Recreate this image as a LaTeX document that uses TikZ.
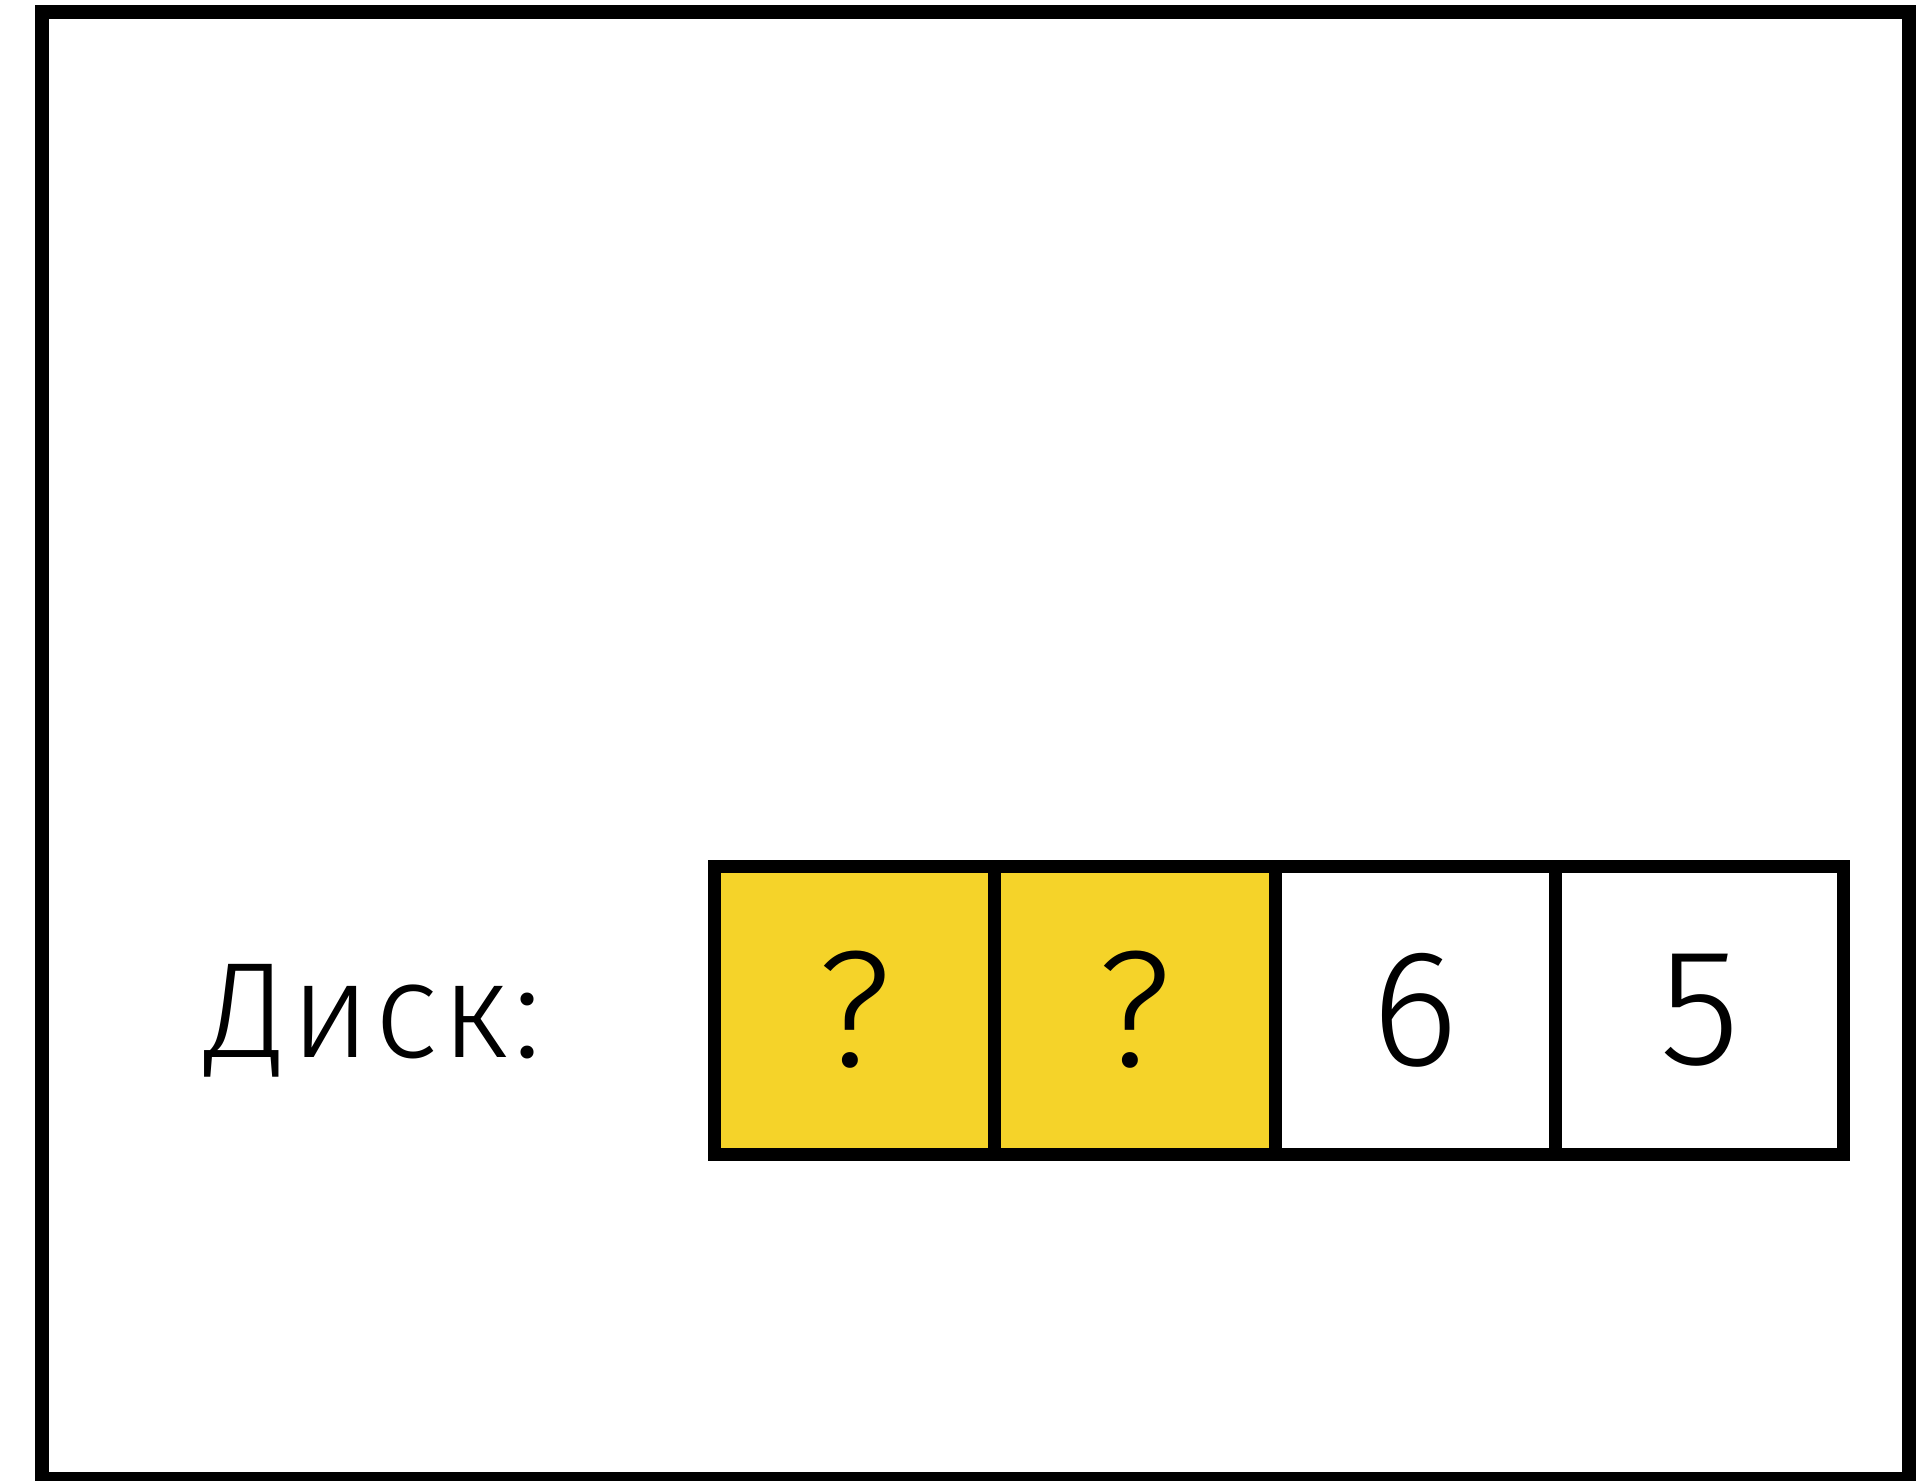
\documentclass[tikz,border=0pt]{standalone}
\usepackage{fontspec}
\setmainfont{Fira Sans}[UprightFont=* Light]
\usepackage{xcolor}
\definecolor{dyellow}{RGB}{245,211,41}

\begin{document}
\begin{tikzpicture}[x=0.5pt,y=-0.5pt,
  cell/.style={draw,line width=6.5pt,minimum height=144pt,inner sep=0pt,
    font=\fontsize{83}{90}\selectfont}]
\useasboundingbox (0,0) rectangle (1916,1481);
\draw[line width=7pt] (42,12) rectangle (1909,1479);
\node[anchor=base west,inner sep=0pt,font=\fontsize{68}{76}\selectfont\addfontfeatures{LetterSpace=2.5}] (disklabel) at (205,1057) {Диск:};
\node[cell,fill=dyellow,minimum width=140.25pt] (cellA) at (854.25,1010) {?};
\node[cell,fill=dyellow,minimum width=140.25pt] (cellB) at (1134.75,1010) {?};
\node[cell,fill=white,minimum width=140.25pt] (cellC) at (1415.25,1010) {6};
\node[cell,fill=white,minimum width=144pt] (cellD) at (1699.5,1010) {5};
\end{tikzpicture}
\end{document}
